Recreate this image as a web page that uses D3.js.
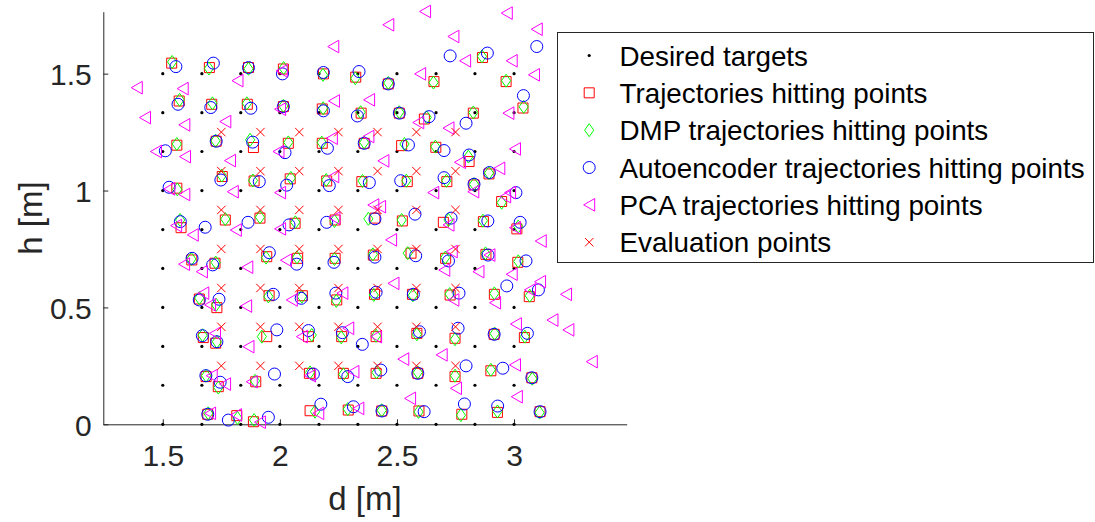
<!DOCTYPE html>
<html>
<head>
<meta charset="utf-8">
<script src="https://cdn.jsdelivr.net/npm/d3@7"></script>
<style>
body { margin: 0; background: #fff; }
text { font-family: "Liberation Sans", Arial, Helvetica, sans-serif; }
</style>
</head>
<body>
<div id="chart"></div>
<script>
// Desired targets grid (d, h)
var targetD = [1.5, 1.667, 1.833, 2.0, 2.167, 2.333, 2.5, 2.667, 2.833, 3.0];
var targetH = [0, 0.167, 0.333, 0.5, 0.667, 0.833, 1.0, 1.167, 1.333, 1.5];

// Evaluation points grid
var evalD = [1.75, 1.917, 2.083, 2.25, 2.417, 2.583, 2.75];
var evalH = [0.25, 0.417, 0.583, 0.75, 0.917, 1.083, 1.25];

// Trajectories hitting points (red squares)
var trajHits = [
  [1.538,1.545],[1.699,1.526],[1.866,1.526],[2.015,1.520],[2.186,1.499],[2.324,1.485],[2.463,1.456],[2.658,1.466],[2.865,1.569],[2.966,1.466],
  [1.570,1.383],[1.709,1.369],[1.861,1.369],[2.015,1.359],[2.181,1.349],[2.347,1.331],[2.510,1.331],[2.617,1.306],[2.826,1.331],[3.038,1.353],
  [1.560,1.194],[1.728,1.211],[1.887,1.184],[2.036,1.202],[2.181,1.202],[2.360,1.202],[2.520,1.192],[2.666,1.185],[2.808,1.124],
  [1.560,1.010],[1.754,1.060],[1.890,1.041],[2.044,1.050],[2.200,1.041],[2.350,1.038],[2.544,1.038],[2.713,1.038],[2.829,1.024],[2.893,1.071],[2.947,0.953],
  [1.578,0.841],[1.767,0.874],[1.915,0.882],[2.065,0.860],[2.236,0.874],[2.406,0.882],[2.523,0.870],[2.698,0.864],[2.869,0.867],[3.012,0.836],
  [1.624,0.703],[1.723,0.689],[1.944,0.717],[2.076,0.710],[2.236,0.710],[2.399,0.724],[2.560,0.732],[2.708,0.710],[2.880,0.727],[3.016,0.693],
  [1.656,0.536],[1.731,0.499],[1.954,0.550],[2.096,0.550],[2.243,0.532],[2.404,0.556],[2.566,0.556],[2.727,0.553],[2.916,0.556],[3.065,0.546],
  [1.673,0.371],[1.726,0.347],[1.944,0.375],[2.122,0.375],[2.264,0.375],[2.411,0.375],[2.585,0.389],[2.748,0.368],[2.915,0.385],[3.044,0.371],
  [1.685,0.204],[1.737,0.161],[1.897,0.182],[2.126,0.218],[2.271,0.218],[2.411,0.218],[2.589,0.218],[2.748,0.204],[2.901,0.229],[3.076,0.199],
  [1.692,0.043],[1.816,0.037],[1.887,0.011],[2.129,0.058],[2.292,0.061],[2.435,0.057],[2.594,0.057],[2.777,0.043],[2.929,0.051],[3.111,0.054]
];

// DMP trajectories hitting points (green diamonds)
var dmpHits = [
  [1.540,1.550],[1.697,1.522],[1.866,1.521],[2.016,1.524],[2.184,1.495],[2.322,1.480],[2.463,1.460],[2.656,1.462],[2.863,1.574],[2.966,1.470],
  [1.572,1.388],[1.712,1.373],[1.859,1.373],[2.015,1.362],[2.185,1.352],[2.345,1.335],[2.510,1.335],[2.627,1.313],[2.826,1.334],[3.041,1.358],
  [1.560,1.199],[1.725,1.213],[1.873,1.217],[2.036,1.206],[2.179,1.205],[2.360,1.206],[2.532,1.199],[2.664,1.188],[2.805,1.145],
  [1.562,1.005],[1.752,1.064],[1.885,1.043],[2.047,1.054],[2.198,1.045],[2.353,1.041],[2.540,1.042],[2.711,1.042],[2.829,1.027],[2.893,1.075],[2.947,0.948],
  [1.574,0.874],[1.767,0.878],[1.915,0.886],[2.066,0.864],[2.233,0.870],[2.378,0.879],[2.520,0.874],[2.720,0.874],[2.867,0.871],[3.018,0.846],
  [1.622,0.707],[1.726,0.692],[1.941,0.713],[2.073,0.714],[2.233,0.707],[2.397,0.727],[2.546,0.732],[2.706,0.713],[2.878,0.731],[3.018,0.697],
  [1.656,0.540],[1.728,0.511],[1.951,0.547],[2.094,0.546],[2.241,0.528],[2.401,0.553],[2.568,0.552],[2.725,0.557],[2.916,0.560],[3.067,0.550],
  [1.670,0.381],[1.731,0.353],[1.923,0.375],[2.136,0.382],[2.262,0.372],[2.411,0.379],[2.585,0.385],[2.748,0.364],[2.917,0.388],[3.046,0.375],
  [1.685,0.208],[1.737,0.157],[1.894,0.186],[2.129,0.222],[2.271,0.214],[2.413,0.222],[2.589,0.222],[2.748,0.208],[2.901,0.233],[3.078,0.195],
  [1.694,0.047],[1.819,0.027],[1.890,0.018],[2.150,0.054],[2.290,0.065],[2.435,0.060],[2.592,0.053],[2.773,0.039],[2.929,0.055],[3.109,0.050]
];

// Autoencoder trajectories hitting points (blue circles)
var aeHits = [
  [1.556,1.530],[1.716,1.545],[1.866,1.526],[2.011,1.499],[2.186,1.505],[2.338,1.509],[2.463,1.456],[2.727,1.576],[2.886,1.588],[3.097,1.616],
  [1.565,1.369],[1.705,1.355],[1.876,1.352],[2.015,1.359],[2.186,1.341],[2.331,1.319],[2.510,1.331],[2.637,1.316],[2.795,1.288],[3.040,1.406],
  [1.511,1.170],[1.728,1.211],[1.884,1.207],[2.022,1.162],[2.203,1.181],[2.360,1.202],[2.549,1.195],[2.701,1.171],[2.808,1.152],
  [1.527,1.014],[1.748,1.045],[1.912,1.038],[2.029,1.023],[2.211,1.021],[2.382,1.034],[2.516,1.042],[2.701,1.055],[2.829,1.027],[2.895,1.077],[3.008,0.991],
  [1.575,0.867],[1.681,0.843],[1.864,0.864],[2.039,0.853],[2.200,0.864],[2.406,0.879],[2.577,0.899],[2.731,0.882],[2.888,0.870],[3.026,0.864],
  [1.625,0.710],[1.713,0.682],[1.955,0.734],[2.072,0.685],[2.231,0.693],[2.406,0.715],[2.580,0.721],[2.720,0.699],[2.889,0.724],[3.051,0.699],
  [1.656,0.532],[1.740,0.535],[1.972,0.556],[2.091,0.539],[2.239,0.561],[2.411,0.565],[2.570,0.556],[2.765,0.561],[2.969,0.592],[3.104,0.575],
  [1.669,0.379],[1.731,0.353],[1.987,0.404],[2.122,0.401],[2.267,0.392],[2.352,0.342],[2.596,0.396],[2.761,0.411],[2.915,0.385],[3.057,0.389],
  [1.684,0.208],[1.745,0.180],[1.977,0.215],[2.143,0.215],[2.290,0.204],[2.431,0.232],[2.589,0.218],[2.795,0.250],[2.952,0.240],[3.076,0.199],
  [1.692,0.043],[1.780,0.018],[1.951,0.030],[2.175,0.086],[2.314,0.075],[2.436,0.057],[2.616,0.054],[2.788,0.087],[2.930,0.078],[3.111,0.054]
];

// PCA trajectories hitting points (magenta triangles)
var pcaHits = [
  [1.389,1.440],[1.585,1.436],[1.819,1.470],[2.008,1.512],[2.228,1.616],[2.463,1.709],[2.620,1.766],[2.741,1.659],[2.969,1.759],[3.097,1.690],
  [1.424,1.312],[1.592,1.281],[1.767,1.295],[2.001,1.348],[2.231,1.383],[2.381,1.388],[2.599,1.499],[2.791,1.555],[2.990,1.555],[3.085,1.495],
  [1.471,1.167],[1.595,1.145],[1.787,1.128],[1.994,1.167],[2.222,1.224],[2.378,1.231],[2.591,1.291],[2.720,1.267],[2.976,1.331],[3.004,1.178],
  [1.528,1.007],[1.592,0.983],[1.799,0.995],[2.001,0.991],[2.228,1.060],[2.442,1.127],[2.655,0.991],[2.769,1.121],[2.937,1.095],[2.826,0.995],[2.962,0.974],[2.983,0.991],
  [1.557,0.850],[1.628,0.810],[1.812,0.831],[2.001,0.836],[2.233,0.882],[2.399,0.938],[2.428,0.931],[2.475,0.789],[2.720,0.853],[3.004,0.841],[3.114,0.784],
  [1.591,0.685],[1.667,0.653],[1.861,0.672],[2.026,0.702],[2.485,0.603],[2.702,0.660],[2.734,0.739],[2.848,0.653],[2.895,0.724],[2.990,0.642],[3.111,0.610],
  [1.673,0.561],[1.702,0.511],[1.856,0.506],[2.051,0.532],[2.267,0.561],[2.741,0.532],[2.919,0.520],[3.068,0.575],[3.222,0.556],
  [1.723,0.389],[1.866,0.332],[2.094,0.375],[2.292,0.411],[2.411,0.375],[2.527,0.279],[2.691,0.297],[3.008,0.429],[3.164,0.446],[3.232,0.404],
  [1.709,0.208],[1.766,0.172],[1.880,0.182],[2.129,0.208],[2.314,0.225],[2.556,0.111],[2.752,0.154],[3.004,0.254],[3.332,0.268],[3.012,0.118],
  [1.702,0.047],[1.813,0.040],[1.915,0.009],[2.164,0.047],[2.335,0.068]
];

var legendLabels = ["Desired targets", "Trajectories hitting points", "DMP trajectories hitting points",
  "Autoencoder trajectories hitting points", "PCA trajectories hitting points", "Evaluation points"];

var xTicks = [1.5, 2, 2.5, 3];
var yTicks = [0, 0.5, 1, 1.5];

// build grids from the read-off coordinates
var targets = [];
targetD.forEach(function(d){ targetH.forEach(function(h){ targets.push([d, h]); }); });
var evalPts = [];
evalD.forEach(function(d){ evalH.forEach(function(h){ evalPts.push([d, h]); }); });

var svgWidth = 1095, svgHeight = 522;
var axisColor = "#262626";

var svg = d3.select("#chart").append("svg")
    .attr("width", svgWidth)
    .attr("height", svgHeight);

var xScale = d3.scaleLinear().domain([1.246, 3.481]).range([103.3, 626.7]);
var yScale = d3.scaleLinear().domain([0, 1.765]).range([424.3, 11.7]);

// axes (box off, ticks pointing in)
var xAxis = svg.append("g")
    .attr("transform", `translate(0,${yScale(0)})`)
    .call(d3.axisBottom(xScale).tickValues(xTicks).tickSize(-5).tickSizeOuter(0).tickFormat(d3.format("")));
var yAxis = svg.append("g")
    .attr("transform", `translate(${xScale.range()[0]},0)`)
    .call(d3.axisLeft(yScale).tickValues(yTicks).tickSize(-5).tickSizeOuter(0).tickFormat(d3.format("")));

[xAxis, yAxis].forEach(function(g){
    g.select(".domain").attr("stroke", axisColor).attr("stroke-width", 1);
    g.selectAll(".tick line").attr("stroke", axisColor).attr("stroke-width", 1);
    g.selectAll(".tick text").attr("fill", axisColor).style("font-size", "30px")
        .style("font-family", "'Liberation Sans', Arial, sans-serif");
});
xAxis.selectAll(".tick text").attr("y", 42).attr("dy", 0);
yAxis.selectAll(".tick text").attr("x", -11.5).attr("dy", "0.36em");

// axis labels
svg.append("text")
    .attr("x", (xScale.range()[0] + xScale.range()[1]) / 2)
    .attr("y", 510)
    .attr("text-anchor", "middle")
    .attr("fill", axisColor)
    .style("font-size", "33px")
    .text("d [m]");
svg.append("text")
    .attr("transform", `translate(42,${(yScale.range()[0] + yScale.range()[1]) / 2}) rotate(-90)`)
    .attr("text-anchor", "middle")
    .attr("fill", axisColor)
    .style("font-size", "33px")
    .text("h [m]");

// marker shapes
var shapes = {
    dot: "M-1.6,0a1.6,1.6 0 1,0 3.2,0a1.6,1.6 0 1,0 -3.2,0Z",
    square: "M-5,-5H5V5H-5Z",
    diamond: "M0,-6.5L4.6,0L0,6.5L-4.6,0Z",
    circle: "M-6,0a6,6 0 1,0 12,0a6,6 0 1,0 -12,0Z",
    triangle: "M-5.5,0L5.5,-6.3L5.5,6.3Z",
    cross: "M-4.2,-4.2L4.2,4.2M-4.2,4.2L4.2,-4.2"
};

var series = [
    {data: targets, shape: "dot", color: "#000000", fill: true},
    {data: trajHits, shape: "square", color: "#ff0000"},
    {data: dmpHits, shape: "diamond", color: "#00ff00"},
    {data: aeHits, shape: "circle", color: "#0000ff"},
    {data: pcaHits, shape: "triangle", color: "#ff00ff"},
    {data: evalPts, shape: "cross", color: "#ff0000"}
];

series.forEach(function(s){
    svg.append("g").selectAll("path")
        .data(s.data)
        .enter()
        .append("path")
        .attr("transform", d => `translate(${xScale(d[0])},${yScale(d[1])})`)
        .attr("d", shapes[s.shape])
        .attr("fill", s.fill ? s.color : "none")
        .attr("stroke", s.fill ? "none" : s.color)
        .attr("stroke-width", 1);
});

// legend
var legend = svg.append("g").attr("transform", "translate(557.5,32.5)");
legend.append("rect")
    .attr("width", 536)
    .attr("height", 230)
    .attr("fill", "#fff")
    .attr("stroke", axisColor)
    .attr("stroke-width", 1);

var rowY = d3.scaleLinear().domain([0, legendLabels.length - 1]).range([23, 209.7]);
legendLabels.forEach(function(label, i){
    var s = series[i];
    legend.append("path")
        .attr("transform", `translate(31.7,${rowY(i)})`)
        .attr("d", shapes[s.shape])
        .attr("fill", s.fill ? s.color : "none")
        .attr("stroke", s.fill ? "none" : s.color)
        .attr("stroke-width", 1);
    legend.append("text")
        .attr("x", 62)
        .attr("y", rowY(i) + 10)
        .attr("fill", "#000")
        .style("font-size", "27.8px")
        .text(label);
});
</script>
</body>
</html>
